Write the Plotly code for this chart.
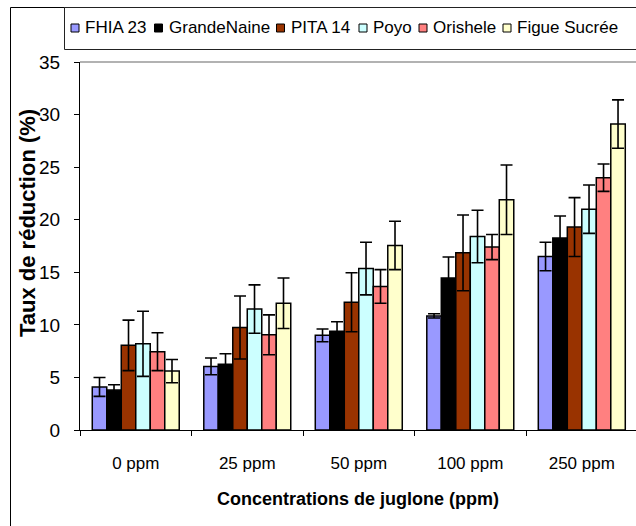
import plotly.graph_objects as go

categories = ["0 ppm", "25 ppm", "50 ppm", "100 ppm", "250 ppm"]
series_names = ["FHIA 23", "GrandeNaine", "PITA 14", "Poyo", "Orishele", "Figue Sucrée"]

fhia23 = [4.1, 6.05, 9.0, 10.85, 16.5]
fhia23_err = [0.9, 0.8, 0.6, 0.2, 1.35]
grande_naine = [3.8, 6.25, 9.4, 14.45, 18.25]
grande_naine_err = [0.5, 1.0, 0.9, 2.0, 2.1]
pita14 = [8.05, 9.75, 12.15, 16.85, 19.3]
pita14_err = [2.4, 3.0, 2.8, 3.6, 2.8]
poyo = [8.2, 11.5, 15.35, 18.4, 21.0]
poyo_err = [3.1, 2.3, 2.5, 2.5, 2.3]
orishele = [7.45, 9.05, 13.65, 17.4, 24.0]
orishele_err = [1.8, 1.9, 1.6, 1.2, 1.3]
figue = [5.6, 12.05, 17.55, 21.9, 29.1]
figue_err = [1.1, 2.4, 2.3, 3.3, 2.3]

colors = ["#9999FF", "#000000", "#993300", "#CCFFFF", "#FF8080", "#FFFFCC"]
values = [fhia23, grande_naine, pita14, poyo, orishele, figue]
errors = [fhia23_err, grande_naine_err, pita14_err, poyo_err, orishele_err, figue_err]

# figure slightly wider than the 636px window so the plot's right edge is off-screen
W, H = 640, 526
L, R, T, B = 80, 0, 62, 96
PW, PH = W - L - R, H - T - B

def px(x):
    return (x - L) / PW

def py(y):
    return (H - B - y) / PH

FONT = "Liberation Sans, Arial, sans-serif"

fig = go.Figure()
for name, vals, errs, col in zip(series_names, values, errors, colors):
    fig.add_trace(go.Bar(
        name=name, x=categories, y=vals,
        marker=dict(color=col, line=dict(color="black", width=1.5)),
        error_y=dict(type="data", array=errs, visible=True, color="black",
                     thickness=1.6, width=6),
    ))

shapes = []
annotations = []
# outer frame (left and top edges visible)
shapes.append(dict(type="line", xref="paper", yref="paper",
                   x0=px(10.5), x1=px(10.5), y0=py(526), y1=py(7.5),
                   line=dict(color="black", width=1), layer="above"))
shapes.append(dict(type="line", xref="paper", yref="paper",
                   x0=px(10.5), x1=px(640), y0=py(7.5), y1=py(7.5),
                   line=dict(color="black", width=1), layer="above"))
# legend box
shapes.append(dict(type="rect", xref="paper", yref="paper",
                   x0=px(64.5), x1=px(645), y0=py(49.5), y1=py(7.5),
                   line=dict(color="#222222", width=1), fillcolor="white", layer="above"))
# plot top border
shapes.append(dict(type="line", xref="paper", yref="paper",
                   x0=0, x1=1, y0=1, y1=1, line=dict(color="#999999", width=1.5)))

# manual legend
leg_sq_x = [71, 154.5, 276.5, 359, 419, 503]
for name, col, sx in zip(series_names, colors, leg_sq_x):
    shapes.append(dict(type="rect", xref="paper", yref="paper",
                       x0=px(sx), x1=px(sx + 8), y0=py(32), y1=py(24),
                       line=dict(color="black", width=1), fillcolor=col, layer="above"))
    annotations.append(dict(x=px(sx + 12), y=py(28), xref="paper", yref="paper",
                            text=name, showarrow=False, xanchor="left", yanchor="middle",
                            font=dict(family=FONT, size=17, color="black")))

# axis titles
annotations.append(dict(x=px(358), y=py(499), xref="paper", yref="paper",
                        text="<b>Concentrations de juglone (ppm)</b>", showarrow=False,
                        xanchor="center", yanchor="middle",
                        font=dict(family=FONT, size=18, color="black")))
annotations.append(dict(x=px(27), y=py(223), xref="paper", yref="paper",
                        text="<b>Taux de réduction (%)</b>", showarrow=False, textangle=-90,
                        xanchor="center", yanchor="middle",
                        font=dict(family=FONT, size=22, color="black")))

fig.update_layout(
    width=W, height=H,
    margin=dict(l=L, r=R, t=T, b=B, pad=0),
    barmode="group", bargap=0.22, bargroupgap=0,
    showlegend=False,
    plot_bgcolor="white", paper_bgcolor="white",
    shapes=shapes, annotations=annotations,
    font=dict(family=FONT, color="black"),
)
fig.update_xaxes(
    type="category", range=[-0.5, 4.522],
    showline=True, linecolor="black", linewidth=1,
    ticks="outside", tickson="boundaries", ticklen=5, tickcolor="black",
    ticklabelstandoff=18,
    tickfont=dict(family=FONT, size=17, color="black"),
    showgrid=False, zeroline=False,
)
fig.update_yaxes(
    range=[0, 35], dtick=5,
    showline=True, linecolor="black", linewidth=1,
    ticks="outside", ticklen=5, tickcolor="black",
    ticklabelstandoff=10,
    tickfont=dict(family=FONT, size=19, color="black"),
    showgrid=False, zeroline=False,
)

fig.write_html(
    "out.html",
    config={"displayModeBar": False},
    post_script="document.body.style.margin='0';document.body.style.overflow='hidden';",
)
